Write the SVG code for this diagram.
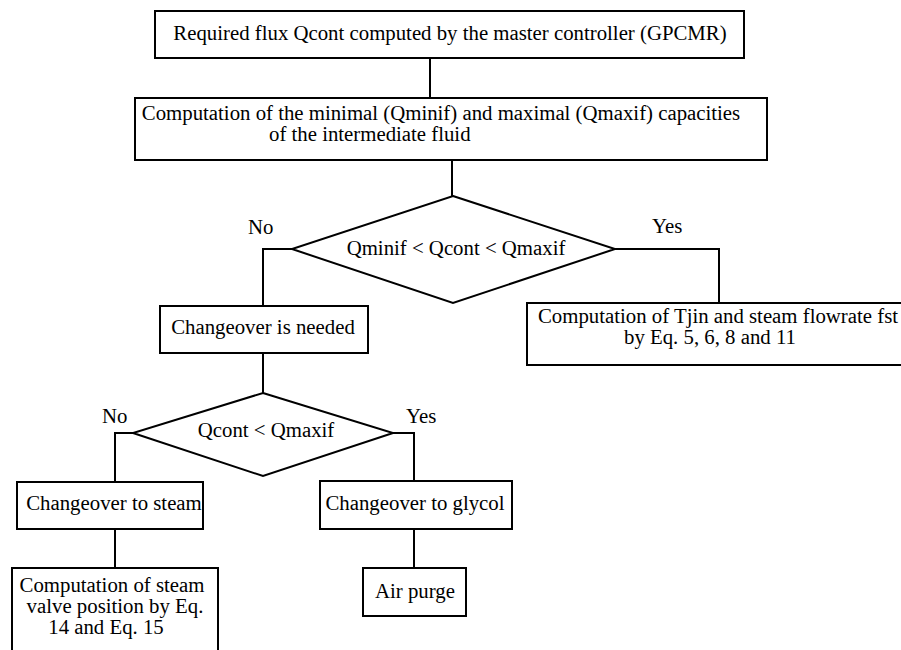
<svg xmlns="http://www.w3.org/2000/svg" width="901" height="650" viewBox="0 0 901 650">
<style>
.box{fill:#fff;stroke:#000;stroke-width:2}
.dia{fill:#fff;stroke:#000;stroke-width:2;stroke-linejoin:miter}
.con{fill:none;stroke:#000;stroke-width:2}
text{font-family:"Liberation Serif","Times New Roman",serif;font-size:20.8px;fill:#000}
.m{text-anchor:middle}
</style>
<rect width="901" height="650" fill="#fff"/>
<g id="connectors">
<line class="con" x1="430" y1="58" x2="430" y2="98"/>
<line class="con" x1="452" y1="160" x2="452" y2="196"/>
<polyline class="con" points="292,249 263,249 263,306"/>
<polyline class="con" points="615,249 719,249 719,303"/>
<line class="con" x1="263" y1="353" x2="263" y2="393"/>
<polyline class="con" points="133,433 115,433 115,482"/>
<polyline class="con" points="393,433 414,433 414,481"/>
<line class="con" x1="115" y1="529" x2="115" y2="568"/>
<line class="con" x1="414" y1="529" x2="414" y2="568"/>
</g>
<g id="n1">
<rect class="box" x="155" y="11" width="589" height="47"/>
<text class="m" x="450" y="40">Required flux Qcont computed by the master controller (GPCMR)</text>
</g>
<g id="n2">
<rect class="box" x="135" y="98" width="632" height="62"/>
<text class="m" x="441" y="120">Computation of the minimal (Qminif) and maximal (Qmaxif) capacities</text>
<text x="269" y="141">of the intermediate fluid</text>
</g>
<g id="d1">
<polygon class="dia" points="453,196 615,249 453,303 292,249"/>
<text class="m" x="456" y="255">Qminif &lt; Qcont &lt; Qmaxif</text>
</g>
<g id="n3">
<rect class="box" x="527" y="303" width="380" height="62"/>
<text class="m" x="718" y="323">Computation of Tjin and steam flowrate fst</text>
<text class="m" x="710" y="344">by Eq. 5, 6, 8 and 11</text>
</g>
<g id="n4">
<rect class="box" x="160" y="306" width="208" height="47"/>
<text class="m" x="263" y="334">Changeover is needed</text>
</g>
<g id="d2">
<polygon class="dia" points="263,393 393,433 263,476 133,433"/>
<text class="m" x="266" y="437">Qcont &lt; Qmaxif</text>
</g>
<g id="n5">
<rect class="box" x="17" y="482" width="186" height="47"/>
<text class="m" x="114" y="510">Changeover to steam</text>
</g>
<g id="n6">
<rect class="box" x="320" y="481" width="192" height="48"/>
<text class="m" x="415" y="510">Changeover to glycol</text>
</g>
<g id="n7">
<rect class="box" x="12" y="568" width="206" height="90"/>
<text class="m" x="112" y="592">Computation of steam</text>
<text class="m" x="115" y="613">valve position by Eq.</text>
<text class="m" x="106" y="634">14 and Eq. 15</text>
</g>
<g id="n8">
<rect class="box" x="363" y="568" width="103" height="48"/>
<text class="m" x="415" y="598">Air purge</text>
</g>
<g id="labels">
<text x="248" y="234">No</text>
<text x="652" y="233">Yes</text>
<text x="102" y="423">No</text>
<text x="406" y="423">Yes</text>
</g>
</svg>
